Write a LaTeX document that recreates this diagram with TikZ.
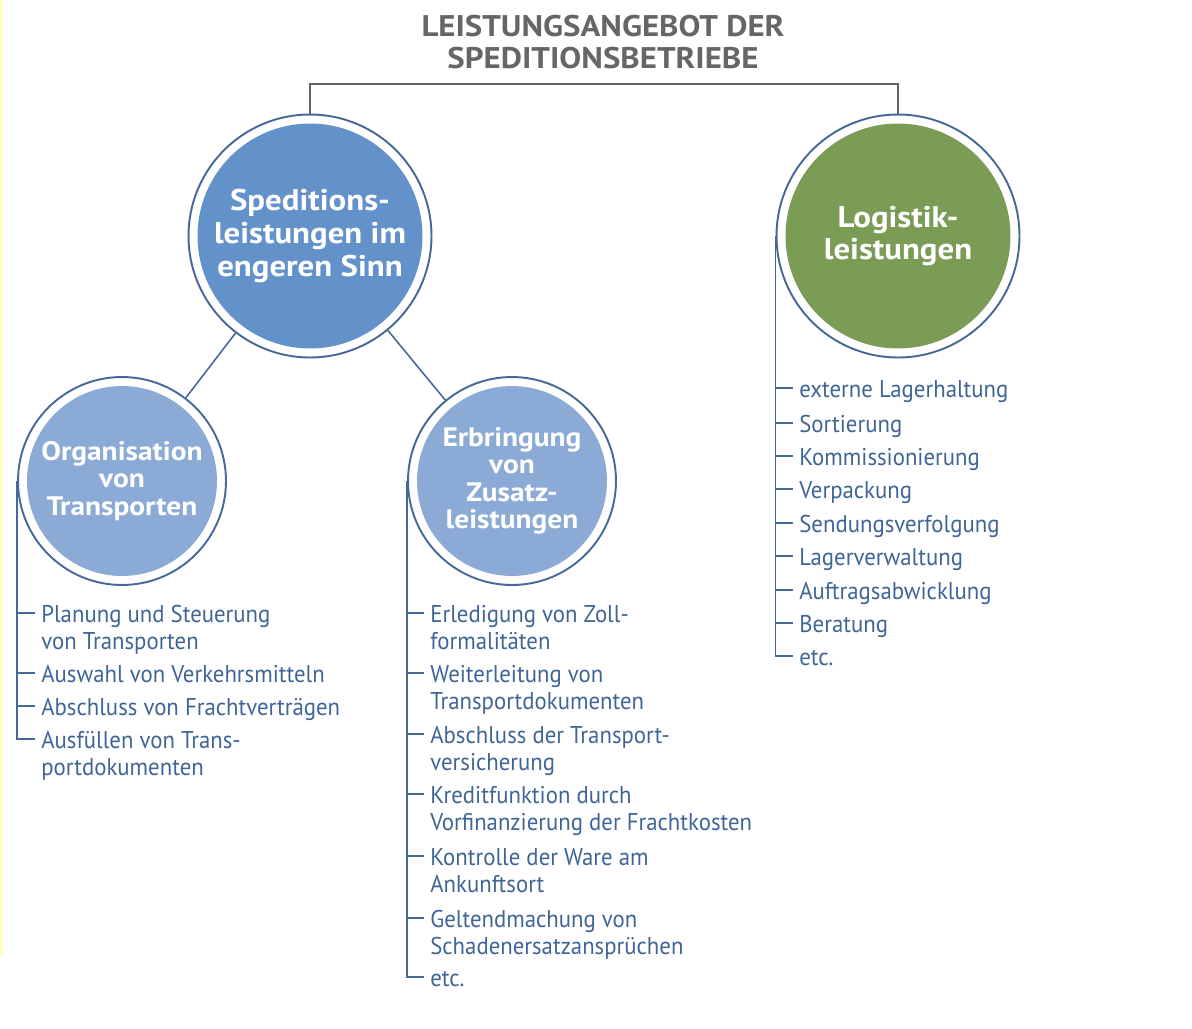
\documentclass[tikz,border=0pt]{standalone}
\usepackage{fontspec}
\setmainfont{PT Sans}
\newfontfamily\headfont[FakeStretch=1.1]{PT Sans}
\newfontfamily\listfont[FakeStretch=0.94]{PT Sans}
\usetikzlibrary{positioning}

\definecolor{ringblue}{HTML}{46699A}
\definecolor{listblue}{HTML}{3F6597}
\definecolor{bigblue}{HTML}{6391C9}
\definecolor{paleblue}{HTML}{8BAAD6}
\definecolor{leafgreen}{HTML}{7B9C55}
\definecolor{titlegray}{HTML}{666666}
\definecolor{stripyellow}{HTML}{FFFFC4}

\tikzset{
  bubble/.style 2 args={circle, draw=ringblue, line width=1.1pt, fill=white,
    inner sep=0pt, minimum size=#2, text=white, align=center,
    path picture={\fill[#1] (path picture bounding box.center) circle (0.5*#2-0.18cm);}},
  bigtext/.style={font=\headfont\bfseries\fontsize{17}{18.7}\selectfont},
  smalltext/.style={font=\headfont\bfseries\fontsize{15.2}{15.6}\selectfont},
  item/.style={inner sep=0pt, align=left, text=listblue,
    font=\listfont\fontsize{13.8}{15.3}\selectfont},
  spine/.style={draw=ringblue, line width=0.9pt},
  link/.style={draw=ringblue, line width=0.9pt},
  bracket/.style={draw=titlegray, line width=1.1pt}
}

\begin{document}
\begin{tikzpicture}[x=0.02cm, y=-0.02cm]
	\useasboundingbox (0,0) rectangle (1192,1028);
	
	% ---- thin strip at the left edge ----
	\fill[stripyellow] (0,0) rectangle (3,955);
	
	% ---- Title ----
	\node[align=center, text=titlegray, font=\headfont\bfseries\fontsize{17}{18.2}\selectfont] (title) at (603,42)
		{LEISTUNGSANGEBOT DER\\SPEDITIONSBETRIEBE};
	
	% ---- Main circles ----
	\node[bubble={bigblue}{4.86cm}, bigtext] (spedi) at (310,236)
		{Speditions-\\leistungen im\\engeren Sinn};
	\node[bubble={leafgreen}{4.86cm}, bigtext] (logi) at (898,236)
		{Logistik-\\leistungen};
	
	% ---- Sub circles ----
	\node[bubble={paleblue}{4.16cm}, smalltext] (orga) at (122,481)
		{Organisation\\von\\Transporten};
	\node[bubble={paleblue}{4.16cm}, smalltext] (zusatz) at (512,481)
		{Erbringung\\von\\Zusatz-\\leistungen};
	
	% ---- Connections ----
	\draw[bracket] (spedi.north) -- ++(0,-30) -| (logi.north);
	\draw[link] (spedi) -- (orga);
	\draw[link] (spedi) -- (zusatz);
	
	% ---- List: Organisation von Transporten ----
	\foreach \ypos/\nl/\lbl [count=\i] in {
		622/1/Planung und Steuerung\\von Transporten,
		682/0/Auswahl von Verkehrsmitteln,
		715/0/Abschluss von Frachtverträgen,
		748/1/Ausfüllen von Trans-\\portdokumenten
	}
	{
		\node[item, anchor=base west] (orga\i) at (41,\ypos+27*\nl) {\lbl};
		\coordinate (ot\i) at (35,\ypos-9);
		\draw[spine] (orga.west |- ot\i) -- (ot\i);
	}
	\draw[spine] (orga.west) |- (ot4);
	
	% ---- List: Erbringung von Zusatzleistungen ----
	\foreach \ypos/\nl/\lbl [count=\i] in {
		622/1/Erledigung von Zoll-\\formalitäten,
		682/1/Weiterleitung von\\Transportdokumenten,
		743/1/Abschluss der Transport-\\versicherung,
		803/1/Kreditfunktion durch\\Vorfinanzierung der Frachtkosten,
		865/1/Kontrolle der Ware am\\Ankunftsort,
		927/1/Geltendmachung von\\Schadenersatzansprüchen,
		986/0/etc.
	}
	{
		\node[item, anchor=base west] (zusatz\i) at (430,\ypos+27*\nl) {\lbl};
		\coordinate (zt\i) at (424,\ypos-9);
		\draw[spine] (zusatz.west |- zt\i) -- (zt\i);
	}
	\draw[spine] (zusatz.west) |- (zt7);
	
	% ---- List: Logistikleistungen ----
	\foreach \ypos/\lbl [count=\i] in {
		397/externe Lagerhaltung,
		432/Sortierung,
		465/Kommissionierung,
		498/Verpackung,
		532/Sendungsverfolgung,
		565/Lagerverwaltung,
		599/Auftragsabwicklung,
		632/Beratung,
		665/etc.
	}
	{
		\node[item, anchor=base west] (logi\i) at (799,\ypos) {\lbl};
		\coordinate (lt\i) at (793,\ypos-9);
		\draw[spine] (logi.west |- lt\i) -- (lt\i);
	}
	\draw[spine] (logi.west) |- (lt9);
	
\end{tikzpicture}
\end{document}
